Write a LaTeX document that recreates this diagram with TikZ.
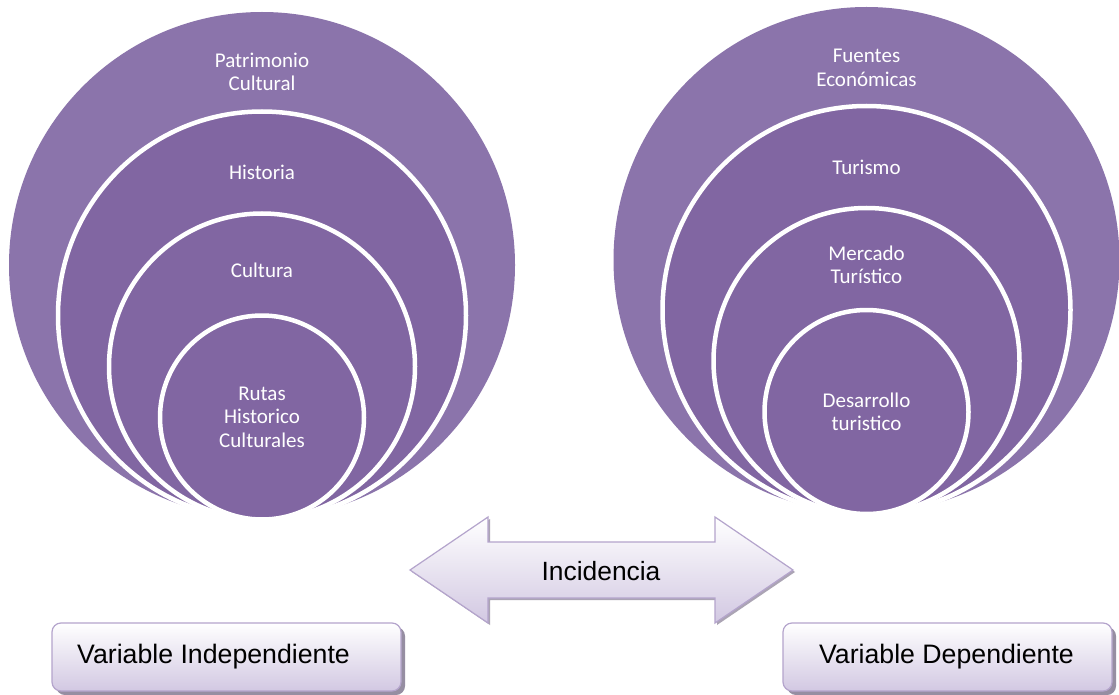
\documentclass[tikz,border=0pt]{standalone}
\usepackage{fontspec}
\setmainfont{Carlito}
\newfontfamily\arialf{Liberation Sans}
\definecolor{outerpurple}{RGB}{139,116,171}
\definecolor{innerpurple}{RGB}{129,102,162}
\definecolor{boxedge}{RGB}{180,164,204}
\definecolor{boxbottom}{RGB}{210,200,226}
\definecolor{shadowc}{RGB}{150,142,162}
\tikzset{
  outerc/.style={circle, inner sep=0pt, fill=outerpurple, draw=none},
  innerc/.style={circle, inner sep=0pt, fill=innerpurple, draw=white, line width=4.5pt},
  lbl/.style={text=white, font=\fontsize{21}{23.5}\selectfont, align=center, inner sep=0pt},
  varbox/.style={rounded corners=9pt, draw=boxedge, line width=1.2pt, top color=white, bottom color=boxbottom},
  varshadow/.style={rounded corners=9pt, fill=shadowc},
  blacktxt/.style={font=\arialf\fontsize{26.7}{30}\selectfont, text=black, inner sep=0pt}
}
\begin{document}
\begin{tikzpicture}[x=1pt,y=-1pt]
\useasboundingbox (0,0) rectangle (1119,695);
\fill[white] (0,0) rectangle (1119,695);
% left group
\node[outerc, minimum size=506pt] (lo) at (262,265) {};
\node[innerc, minimum size=408pt] (lh) at (262,315.5) {};
\node[innerc, minimum size=306pt] (lc) at (262,366.5) {};
\node[innerc, minimum size=204pt] (lr) at (262,417.5) {};
\node[lbl] (tlo) at (262,72) {Patrimonio\\Cultural};
\node[lbl] (tlh) at (262,172) {Historia};
\node[lbl] (tlc) at (262,270) {Cultura};
\node[lbl] (tlr) at (262,417) {Rutas\\Historico\\Culturales};
% right group
\node[outerc, minimum size=506pt] (ro) at (866.5,260) {};
\node[innerc, minimum size=408pt] (rt) at (866.5,310) {};
\node[innerc, minimum size=306pt] (rm) at (866.5,361) {};
\node[innerc, minimum size=204pt] (rd) at (866.5,412) {};
\node[lbl] (tro) at (866.5,68) {Fuentes\\Económicas};
\node[lbl] (trt) at (866.5,167) {Turismo};
\node[lbl] (trm) at (866.5,265) {Mercado\\Turístico};
\node[lbl] (trd) at (866.5,412) {Desarrollo\\turistico};
% double arrow
\fill[shadowc, opacity=0.8] (412,572) -- (490,519) -- (490,544) -- (717,544) -- (717,519) -- (795,572) -- (717,625) -- (717,600) -- (490,600) -- (490,625) -- cycle;
\shade[top color=white, bottom color=boxbottom, draw=boxedge, line width=1.2pt, line join=miter]
  (410,570) -- (488,517) -- (488,542) -- (715,542) -- (715,517) -- (793,570) -- (715,623) -- (715,598) -- (488,598) -- (488,623) -- cycle;
\node[blacktxt, font=\arialf\fontsize{26.4}{30}\selectfont] (inc) at (601,571) {Incidencia};
% boxes
\fill[varshadow] (56,627) rectangle (405,695);
\path[varbox] (52,623) rectangle (401,691);
\node[blacktxt, anchor=west] (vi) at (77,657) {Variable Independiente};
\fill[varshadow] (787,627) rectangle (1116,695);
\path[varbox] (783,623) rectangle (1112,691);
\node[blacktxt] (vd) at (946.5,657) {Variable Dependiente};
\end{tikzpicture}
\end{document}
